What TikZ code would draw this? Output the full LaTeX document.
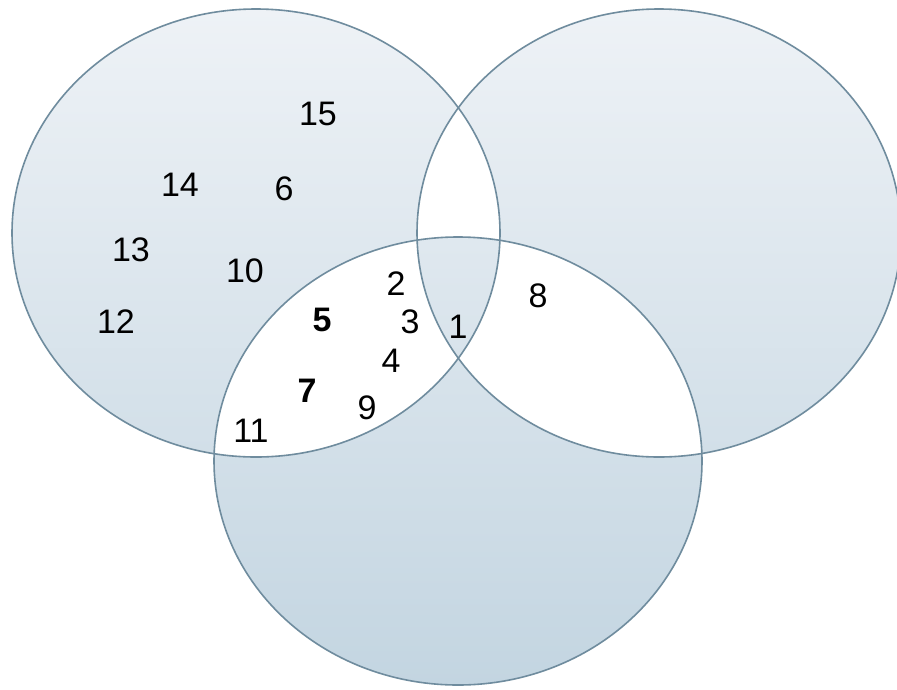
\documentclass[tikz,border=0pt]{standalone}
\usepackage{fontspec}
\setmainfont{Liberation Sans}
\usetikzlibrary{positioning}
\definecolor{vennline}{HTML}{6F8C9E}
\definecolor{venntop}{HTML}{EEF2F6}
\definecolor{vennbot}{HTML}{C3D5E1}

\begin{document}
\begin{tikzpicture}[x=1pt,y=-1pt,font=\fontsize{34pt}{40pt}\selectfont,
    num/.style={inner sep=0pt},
    setline/.style={vennline,line width=1.6pt}]
  \fill[white] (0,0) rectangle (897,689);
  \useasboundingbox (0,0) rectangle (897,689);
  % the three sets
  \coordinate (L) at (256,233);
  \coordinate (R) at (659,233);
  \coordinate (B) at (458,461);
  \shade[top color=venntop,bottom color=vennbot,even odd rule]
    (L) ellipse [x radius=244,y radius=224]
    (R) ellipse [x radius=242,y radius=224]
    (B) ellipse [x radius=244,y radius=224];
  \draw[setline] (L) ellipse [x radius=244,y radius=224];
  \draw[setline] (R) ellipse [x radius=242,y radius=224];
  \draw[setline] (B) ellipse [x radius=244,y radius=224];
  % elements
  \foreach \n/\x/\y in {15/318/114,14/180/185,6/284/189,13/131/250,10/245/271,
      12/116/322,2/396/284,3/410/322,4/391/361,9/367/408,11/251/431,
      1/458/327,8/538/296}{
    \node[num] (n\n) at (\x,\y) {\n};
  }
  \node[num,font=\fontsize{34pt}{40pt}\selectfont\bfseries] (n5) at (322,320) {5};
  \node[num,font=\fontsize{34pt}{40pt}\selectfont\bfseries] (n7) at (307,391) {7};
\end{tikzpicture}
\end{document}
